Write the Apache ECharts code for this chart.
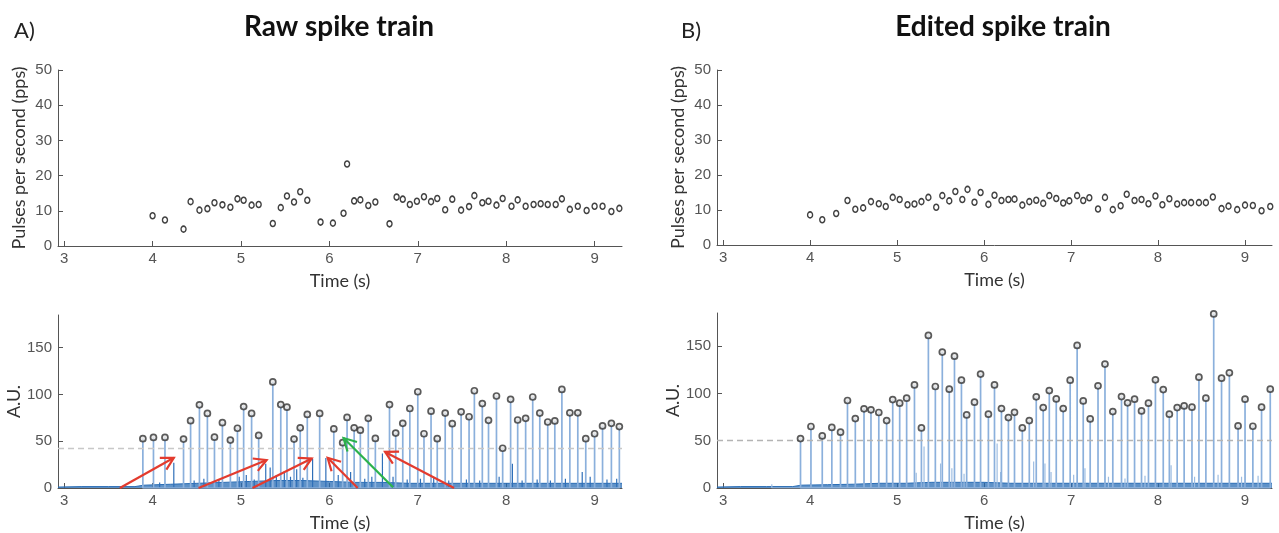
<!DOCTYPE html>
<html><head><meta charset="utf-8">
<script src="https://cdn.jsdelivr.net/npm/echarts@6/dist/echarts.min.js"></script>
<style>html,body{margin:0;padding:0;background:#fff}#c{width:1279px;height:533px}</style>
</head><body><div id="c"></div>
<script>
// ---- Panel A: raw discharge rate (pps)
const rawRateT = [4.00,4.14,4.35,4.43,4.53,4.62,4.70,4.79,4.88,4.96,5.03,5.12,5.20,5.36,5.45,5.52,5.60,5.67,5.75,5.90,6.04,6.16,6.20,6.28,6.35,6.44,6.52,6.68,6.76,6.83,6.91,6.99,7.07,7.15,7.22,7.31,7.39,7.49,7.58,7.64,7.73,7.80,7.89,7.96,8.06,8.13,8.22,8.31,8.39,8.47,8.56,8.63,8.72,8.81,8.91,9.00,9.09,9.19,9.28];
const rawRateV = [8.6,7.4,4.8,12.6,10.2,10.6,12.3,11.7,11.0,13.4,13.0,11.6,11.8,6.4,10.9,14.2,12.5,15.4,13.0,6.8,6.5,9.3,23.3,12.8,13.1,11.5,12.5,6.3,13.9,13.3,11.8,12.7,14.0,12.6,13.5,10.3,13.3,10.2,11.2,14.3,12.3,12.7,11.6,13.5,11.3,13.1,11.3,11.8,12.0,11.8,11.8,13.4,10.4,11.3,10.1,11.3,11.3,9.8,10.7];
// ---- Panel B: edited discharge rate (pps)
const editRateT = [4.00,4.14,4.30,4.43,4.52,4.61,4.70,4.79,4.87,4.95,5.03,5.12,5.20,5.28,5.36,5.45,5.52,5.60,5.67,5.75,5.81,5.89,5.96,6.05,6.12,6.20,6.28,6.35,6.44,6.52,6.60,6.68,6.75,6.83,6.91,6.98,7.07,7.14,7.21,7.31,7.39,7.48,7.57,7.64,7.73,7.81,7.89,7.97,8.05,8.13,8.22,8.30,8.38,8.47,8.55,8.63,8.73,8.81,8.91,9.00,9.09,9.19,9.29];
const editRateV = [8.6,7.2,9.0,12.7,10.2,10.6,12.4,11.8,11.0,13.6,13.0,11.5,11.7,12.4,13.6,10.8,14.1,12.6,15.3,13.0,15.9,12.2,15.0,11.6,14.2,12.7,13.0,13.1,11.4,12.4,12.8,11.9,14.1,13.3,12.0,12.6,14.1,12.7,13.5,10.3,13.6,10.1,11.2,14.5,12.7,13.0,11.8,14.0,11.5,13.2,11.7,12.1,12.1,12.1,12.1,13.7,10.4,11.1,10.1,11.4,11.3,9.8,11.0];
// ---- Raw spike train: detected spike times & amplitudes (A.U.)
const rawSpikeT = [3.89,4.01,4.14,4.35,4.43,4.53,4.62,4.70,4.79,4.88,4.96,5.03,5.12,5.20,5.36,5.45,5.52,5.60,5.67,5.75,5.89,6.05,6.15,6.20,6.28,6.35,6.44,6.52,6.68,6.75,6.83,6.91,7.00,7.07,7.15,7.22,7.31,7.39,7.49,7.58,7.64,7.73,7.80,7.89,7.96,8.05,8.13,8.22,8.30,8.38,8.47,8.55,8.63,8.72,8.81,8.90,9.00,9.09,9.19,9.28];
const rawSpikeA = [52.7,54.1,54.1,52.3,72.0,88.9,79.7,54.4,69.9,51.3,63.9,87.1,79.7,56.2,113.4,89.2,86.4,52.3,64.3,78.7,79.7,63.2,48.5,75.5,64.3,61.8,74.5,53.0,89.2,58.7,69.2,85.0,102.9,58.0,82.2,52.7,80.1,68.8,81.5,76.2,104.0,90.3,72.4,98.4,42.5,94.8,72.7,74.5,97.3,80.1,70.6,71.7,105.4,80.4,80.4,52.7,58.0,66.4,69.2,65.7];
// unmarked (missed / noise) peaks in raw train
const rawSmallT = [4.08,4.24,4.47,4.58,4.75,4.98,5.06,5.15,5.28,5.33,5.40,5.49,5.56,5.63,5.70,5.81,5.96,6.10,6.24,6.40,6.48,6.60,6.72,6.88,7.03,7.18,7.35,7.55,7.70,7.92,8.07,8.18,8.35,8.50,8.67,8.86,8.95,9.14,9.25];
const rawSmallA = [6,27,8,10,9,12,14,9,26,22,14,18,12,20,11,31,32,14,17,10,12,37,12,9,10,11,8,9,8,12,26,8,9,8,10,17,12,9,10];
const rawThreshold = 42;
// ---- Edited spike train
const editSpikeT = [3.89,4.01,4.14,4.25,4.35,4.43,4.52,4.62,4.70,4.79,4.88,4.95,5.03,5.11,5.20,5.28,5.36,5.44,5.52,5.60,5.66,5.74,5.80,5.89,5.96,6.05,6.12,6.20,6.28,6.35,6.44,6.52,6.60,6.68,6.75,6.83,6.91,6.99,7.07,7.14,7.22,7.31,7.39,7.48,7.58,7.65,7.73,7.81,7.89,7.97,8.06,8.13,8.22,8.30,8.39,8.47,8.55,8.64,8.73,8.82,8.92,9.00,9.09,9.19,9.29];
const editSpikeA = [52.2,65,55,64,59,92.5,73.4,83.7,82.6,79.8,71.3,93.5,89.7,95,109,63.5,161.3,107.3,143.7,104.5,139.4,114,77.3,90.7,120.4,78,109,84,74.5,80,63.5,71.3,96.4,85,103,94.2,84,114,150.7,92.1,73,108,131,80.8,96.7,90,93.9,81.5,89.7,114.4,104.1,78,85,86.8,85.4,117.2,95,184,116.1,121.8,65.6,93.9,65.3,85.4,104.5];
const editSmallT = [3.56,5.22,5.31,5.50,5.63,5.77,6.15,6.19,6.57,6.70,6.77,7.03,7.16,7.43,7.62,7.85,8.15,8.42,8.69,8.96,9.15];
const editSmallA = [4,16,44,26,21,15,47,17,28,26,17,14,21,12,10,13,24,12,14,12,13];
const editThreshold = 50;
// ---- noise floor envelope (A.U.)
const noiseT = [2.93,3.2,3.5,3.8,3.9,4.2,4.5,4.8,5.1,5.4,5.7,6.0,6.3,6.6,6.9,7.2,7.5,7.8,8.1,8.4,8.7,9.0,9.31];
const rawNoise = [1,1.5,1.5,1.5,3,4,5,6,7,8,8,7,6,6,5,5,5,5,5,5,5,5,5];
const editNoise = [1,1.5,1.5,1.5,3,3.5,4,5,5,6,6,6,5,5,5,5,5,5,5,5,5,5,5];
// ---- annotation arrows in raw panel: [x tail, y tail, x head, y head]
const redArrows = [[3.63,0,4.24,32.3],[4.52,0,5.29,29.9],[5.13,0,5.80,31.6],[6.32,0,5.98,32.3],[7.41,0,6.63,38.6]];
const greenArrows = [[6.72,0.7,6.16,53.4]];
const xTicksRange = [2.93, 9.31];

const tickFont = 'Liberation Sans';
const labFont = 'Lato';
function xAx(gi){return {gridIndex:gi,type:'value',min:xTicksRange[0],max:xTicksRange[1],splitNumber:6,
  axisLine:{lineStyle:{color:'#555'}},axisTick:{inside:true,length:5,lineStyle:{color:'#555'}},
  axisLabel:{showMinLabel:false,showMaxLabel:false,fontFamily:tickFont,fontSize:15,color:'#555',margin:5},
  splitLine:{show:false},name:'Time (s)',nameLocation:'middle',nameGap:26,
  nameTextStyle:{fontFamily:labFont,fontSize:18,color:'#333'}};}
function yAx(gi,max,interval,name,gap){return {gridIndex:gi,type:'value',min:0,max:max,interval:interval,
  axisLine:{show:true,lineStyle:{color:'#555'}},axisTick:{show:true,inside:true,length:5,lineStyle:{color:'#555'}},
  axisLabel:{showMaxLabel:max%interval===0,fontFamily:tickFont,fontSize:15,color:'#555',margin:6},
  splitLine:{show:false},name:name,nameLocation:'middle',nameGap:gap,
  nameTextStyle:{fontFamily:labFont,fontSize:18,color:'#333'}};}

function spikeLine(T,A){const d=[];T.forEach((t,i)=>{d.push([t,0],[t,A[i]],[t,0]);});return d;}
function pts(T,A){return T.map((t,i)=>[t,A[i]]);}
function envelope(T,A){return T.map((t,i)=>[t,A[i]]);}
function arrowSeries(data,color,xi,yi){
  return {type:'custom',xAxisIndex:xi,yAxisIndex:yi,clip:false,z:10,data:data,
    renderItem:function(params,api){
      const p1=api.coord([api.value(0),api.value(1)]);
      const p2=api.coord([api.value(2),api.value(3)]);
      const ang=Math.atan2(p1[1]-p2[1],p1[0]-p2[0]);
      const L=14,a=0.5;
      const h1=[p2[0]+L*Math.cos(ang+a),p2[1]+L*Math.sin(ang+a)];
      const h2=[p2[0]+L*Math.cos(ang-a),p2[1]+L*Math.sin(ang-a)];
      return {type:'group',children:[
        {type:'polyline',shape:{points:[p1,p2]},style:{stroke:color,lineWidth:2.2,fill:null}},
        {type:'polyline',shape:{points:[h1,p2,h2]},style:{stroke:color,lineWidth:2.2,fill:null,lineJoin:'miter'}}
      ]};
    }};
}
const rateMarker={color:'#fff',borderColor:'#111',borderWidth:1.5};
const peakMarker={color:'#e6e6e6',borderColor:'#333',borderWidth:1.7};

const option={
  animation:false,
  backgroundColor:'#fff',
  title:[
    {text:'A)',left:9,top:15,textStyle:{fontFamily:labFont,fontSize:22,fontWeight:'normal',color:'#222'}},
    {text:'Raw spike train',left:334,top:8,textAlign:'center',textStyle:{fontFamily:labFont,fontSize:28,fontWeight:'bold',color:'#111'}},
    {text:'B)',left:676,top:15,textStyle:{fontFamily:labFont,fontSize:22,fontWeight:'normal',color:'#222'}},
    {text:'Edited spike train',left:998,top:8,textAlign:'center',textStyle:{fontFamily:labFont,fontSize:28,fontWeight:'bold',color:'#111'}}
  ],
  grid:[
    {left:58,top:70,width:564,height:176},
    {left:717,top:70,width:555,height:175},
    {left:58,top:315,width:564,height:175},
    {left:717,top:313,width:555,height:175}
  ],
  xAxis:[xAx(0),xAx(1),xAx(2),xAx(3)],
  yAxis:[yAx(0,50,10,'Pulses per second (pps)',30),yAx(1,50,10,'Pulses per second (pps)',30),
         yAx(2,185,50,'A.U.',32),yAx(3,185,50,'A.U.',32)],
  series:[
    {type:'scatter',xAxisIndex:0,yAxisIndex:0,data:pts(rawRateT,rawRateV),symbol:'circle',symbolSize:[5,6],itemStyle:rateMarker},
    {type:'scatter',xAxisIndex:1,yAxisIndex:1,data:pts(editRateT,editRateV),symbol:'circle',symbolSize:[5,6],itemStyle:rateMarker},
    // raw train
    {type:'line',xAxisIndex:2,yAxisIndex:2,data:envelope(noiseT,rawNoise),showSymbol:false,symbol:'none',
      lineStyle:{width:1,color:'#2a6db5'},areaStyle:{color:'#2a6db5',opacity:0.75},z:2},
    {type:'line',xAxisIndex:2,yAxisIndex:2,data:spikeLine(rawSmallT,rawSmallA),symbol:'none',
      lineStyle:{width:1.2,color:'#2f6fb8'},z:3},
    {type:'line',xAxisIndex:2,yAxisIndex:2,data:spikeLine(rawSpikeT,rawSpikeA),symbol:'none',
      lineStyle:{width:1.7,color:'#8bb0dc'},z:4,
      markLine:{silent:true,symbol:'none',label:{show:false},lineStyle:{color:'#c8c8c8',type:[6,4],width:1.3},data:[{yAxis:rawThreshold}]}},
    {type:'scatter',xAxisIndex:2,yAxisIndex:2,data:pts(rawSpikeT,rawSpikeA),symbol:'circle',symbolSize:6,itemStyle:peakMarker,z:6},
    arrowSeries(redArrows,'#e33b2e',2,2),
    arrowSeries(greenArrows,'#2bb24c',2,2),
    // edited train
    {type:'line',xAxisIndex:3,yAxisIndex:3,data:envelope(noiseT,editNoise),showSymbol:false,symbol:'none',
      lineStyle:{width:1,color:'#2a6db5'},areaStyle:{color:'#2a6db5',opacity:0.75},z:2},
    {type:'line',xAxisIndex:3,yAxisIndex:3,data:spikeLine(editSmallT,editSmallA),symbol:'none',
      lineStyle:{width:1.2,color:'#9dbde2'},z:3},
    {type:'line',xAxisIndex:3,yAxisIndex:3,data:spikeLine(editSpikeT,editSpikeA),symbol:'none',
      lineStyle:{width:1.7,color:'#8bb0dc'},z:4,
      markLine:{silent:true,symbol:'none',label:{show:false},lineStyle:{color:'#b4b4b4',type:[6,4],width:1.3},data:[{yAxis:editThreshold}]}},
    {type:'scatter',xAxisIndex:3,yAxisIndex:3,data:pts(editSpikeT,editSpikeA),symbol:'circle',symbolSize:6,itemStyle:peakMarker,z:6}
  ]
};
echarts.init(document.getElementById('c'),null,{renderer:'canvas'}).setOption(option);
</script></body></html>
